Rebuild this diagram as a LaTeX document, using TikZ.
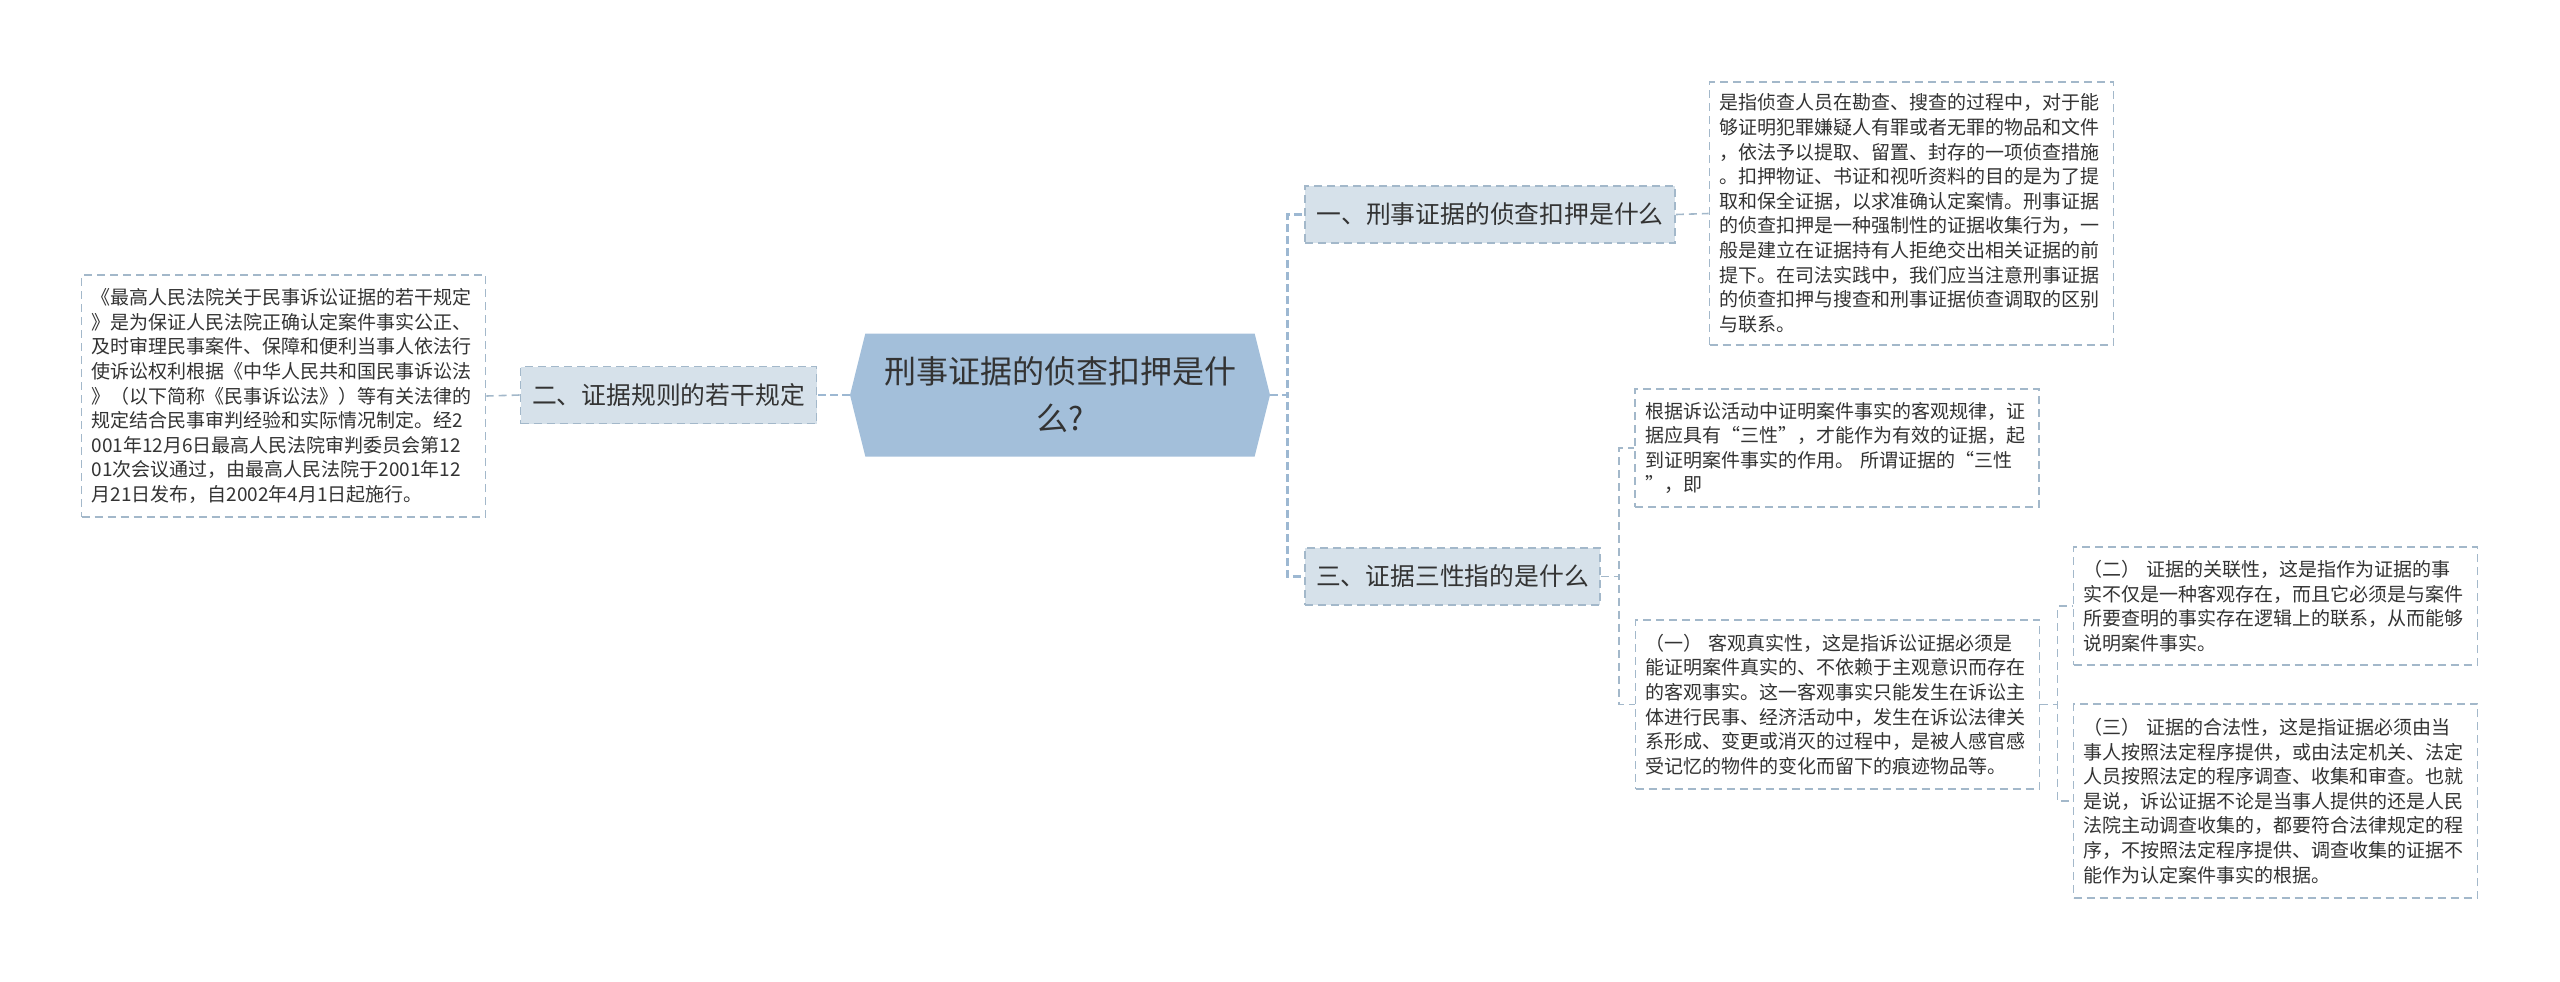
\documentclass[tikz,border=0pt]{standalone}
\usepackage{fontspec}
\setmainfont{Noto Sans CJK SC}
\usetikzlibrary{shapes.symbols}

\definecolor{rootblue}{HTML}{A3BFDA}
\definecolor{branchfill}{HTML}{D6E1EA}
\definecolor{linegray}{HTML}{A3B8CA}
\definecolor{rootline}{HTML}{9DB8D2}
\definecolor{textgray}{HTML}{333333}

\tikzset{
  link/.style={draw=linegray, line width=0.8pt, dash pattern=on 4pt off 2.5pt},
  rootlink/.style={draw=rootline, line width=1.4pt, dash pattern=on 4pt off 2pt},
  rootnode/.style={shape=signal, signal to=east and west, signal pointer angle=152,
    fill=rootblue, text=textgray, align=center, minimum width=210pt, minimum height=61.5pt,
    font=\fontsize{16}{23.5}\selectfont},
  branchbox/.style={draw=linegray, line width=0.8pt, dash pattern=on 4pt off 2.5pt,
    fill=branchfill, text=textgray, minimum height=28.5pt,
    font=\fontsize{12.4}{15}\selectfont},
  leafbox/.style={draw=linegray, line width=0.8pt, dash pattern=on 4pt off 2.5pt,
    fill=white, text=textgray, align=left, text width=192pt, inner xsep=5pt,
    font=\fontsize{9.5}{12.3}\selectfont},
}

\begin{document}
\begin{tikzpicture}[x=0.5pt, y=-0.5pt]
  \useasboundingbox (0,0) rectangle (2560,981);

  % Root topic
  \node[rootnode] (root) at (1060,395) {刑事证据的侦查扣押是什\\么?};

  % Branches
  \node[branchbox, minimum width=185pt] (jieshi) at (1490,214.5) {一、刑事证据的侦查扣押是什么};
  \node[branchbox, minimum width=148pt] (guize) at (668.5,395) {二、证据规则的若干规定};
  \node[branchbox, minimum width=147.5pt] (sanxing) at (1452.5,576.5) {三、证据三性指的是什么};

  % Leaf texts
  \node[leafbox, minimum height=131.5pt] (jieshitext) at (1911.5,213.5) {是指侦查人员在勘查、搜查的过程中，对于能\\
    够证明犯罪嫌疑人有罪或者无罪的物品和文件\\
    ，依法予以提取、留置、封存的一项侦查措施\\
    。扣押物证、书证和视听资料的目的是为了提\\
    取和保全证据，以求准确认定案情。刑事证据\\
    的侦查扣押是一种强制性的证据收集行为，一\\
    般是建立在证据持有人拒绝交出相关证据的前\\
    提下。在司法实践中，我们应当注意刑事证据\\
    的侦查扣押与搜查和刑事证据侦查调取的区别\\
    与联系。};
  \node[leafbox, minimum height=121pt] (guizetext) at (283.5,396) {《最高人民法院关于民事诉讼证据的若干规定\\
    》是为保证人民法院正确认定案件事实公正、\\
    及时审理民事案件、保障和便利当事人依法行\\
    使诉讼权利根据《中华人民共和国民事诉讼法\\
    》（以下简称《民事诉讼法》）等有关法律的\\
    规定结合民事审判经验和实际情况制定。经2\\
    001年12月6日最高人民法院审判委员会第12\\
    01次会议通过，由最高人民法院于2001年12\\
    月21日发布，自2002年4月1日起施行。};
  \node[leafbox, minimum height=59pt] (sanxingtext) at (1837,448) {根据诉讼活动中证明案件事实的客观规律，证\\
    据应具有“三性”，才能作为有效的证据，起\\
    到证明案件事实的作用。 所谓证据的“三性\\
    ”，即};
  \node[leafbox, minimum height=84.5pt] (zhenshi) at (1837.5,704.5) {（一） 客观真实性，这是指诉讼证据必须是\\
    能证明案件真实的、不依赖于主观意识而存在\\
    的客观事实。这一客观事实只能发生在诉讼主\\
    体进行民事、经济活动中，发生在诉讼法律关\\
    系形成、变更或消灭的过程中，是被人感官感\\
    受记忆的物件的变化而留下的痕迹物品等。};
  \node[leafbox, minimum height=59pt] (guanlian) at (2275.5,606) {（二） 证据的关联性，这是指作为证据的事\\
    实不仅是一种客观存在，而且它必须是与案件\\
    所要查明的事实存在逻辑上的联系，从而能够\\
    说明案件事实。};
  \node[leafbox, minimum height=97pt] (hefa) at (2275.5,801) {（三） 证据的合法性，这是指证据必须由当\\
    事人按照法定程序提供，或由法定机关、法定\\
    人员按照法定的程序调查、收集和审查。也就\\
    是说，诉讼证据不论是当事人提供的还是人民\\
    法院主动调查收集的，都要符合法律规定的程\\
    序，不按照法定程序提供、调查收集的证据不\\
    能作为认定案件事实的根据。};

  % Connectors from the root
  \foreach \b in {jieshi,sanxing}{
    \draw[rootlink] (root.east) -- ++(17,0) |- (\b.west);
  }
  \draw[rootlink] (root.west) -- (guize.east);

  % Connectors to the leaf texts
  \draw[link] (jieshi.east) -- (jieshitext.west);
  \draw[link] (guize.west) -- (guizetext.east);
  \foreach \l in {sanxingtext,zhenshi}{
    \draw[link] (sanxing.east) -- ++(18,0) |- (\l.west);
  }
  \foreach \l in {guanlian,hefa}{
    \draw[link] (zhenshi.east) -- ++(17,0) |- (\l.west);
  }
\end{tikzpicture}
\end{document}
